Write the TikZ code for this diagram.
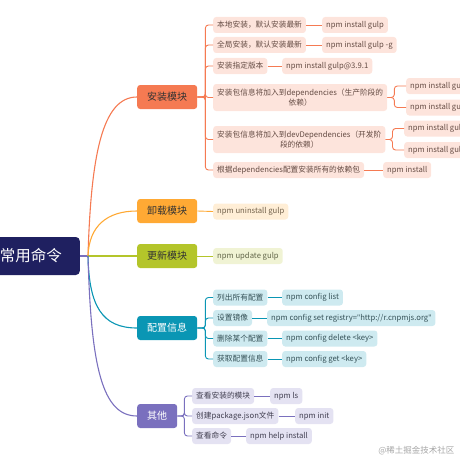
\documentclass[tikz,border=0pt]{standalone}
\usepackage{fontspec}
\setmainfont{Noto Sans CJK SC}
\newfontfamily\latinf{Noto Sans}
\usetikzlibrary{positioning,calc}

\definecolor{rootc}{HTML}{1F2060}
\definecolor{azc}{HTML}{F57A52}
\definecolor{xzc}{HTML}{FFA934}
\definecolor{gxc}{HTML}{B4C52A}
\definecolor{pzc}{HTML}{0A96B4}
\definecolor{qtc}{HTML}{7A70BE}

\newcommand{\dq}{{\latinf\char"22}}

\tikzset{
  topic/.style={rounded corners=3pt,minimum height=24pt,minimum width=60pt,
    font=\fontsize{10}{12}\selectfont,anchor=west,inner xsep=4pt},
  leaf/.style={rounded corners=3pt,minimum height=16pt,inner xsep=4pt,inner ysep=2pt,
    font=\fontsize{7.7}{9.6}\selectfont,anchor=west,align=center},
  main/.style={line width=1.1pt},
  sub/.style={line width=0.9pt,rounded corners=3pt},
}

\begin{document}
\begin{tikzpicture}[x=1pt,y=-1pt]
  \useasboundingbox (0,0) rectangle (460,460);

  % root and main branches
  \node[fill=rootc,text=white,rounded corners=4pt,minimum height=38pt,inner xsep=18pt,
        font=\fontsize{15.5}{18}\selectfont,anchor=east] (root) at (80,256) {常用命令};
  \coordinate (hub) at (88,256);

  \node[topic,fill=azc,text=black!80] (az) at (137,97) {安装模块};
  \node[topic,fill=xzc,text=black!80] (xz) at (137,211) {卸载模块};
  \node[topic,fill=gxc,text=black!80] (gx) at (137,256) {更新模块};
  \node[topic,fill=pzc,text=white] (pz) at (137,328) {配置信息};
  \node[topic,fill=qtc,text=white,minimum width=40pt] (qt) at (137,416) {其他};

  \draw[main,qtc] (root.east) -- (hub);
  \draw[main,azc] (hub) .. controls +(3,-100) and +(-35,0) .. (az.west);
  \draw[main,xzc] (hub) .. controls +(1,-30) and +(-30,0) .. (xz.west);
  \draw[main,gxc] (hub) -- (gx.west);
  \draw[main,pzc] (hub) .. controls +(1,50) and +(-35,0) .. (pz.west);
  \draw[main,qtc] (hub) .. controls +(3,110) and +(-35,0) .. (qt.west);

  % 安装模块
  \begin{scope}[every node/.append style={fill=azc!20,text=azc!25!black!80}]
    \node[leaf] (az1) at (213,25) {本地安装，默认安装最新};
    \node[leaf] (az2) at (213,45) {全局安装，默认安装最新};
    \node[leaf] (az3) at (213,66) {安装指定版本};
    \node[leaf,minimum height=27pt] (az4) at (213,97.5) {安装包信息将加入到dependencies（生产阶段的\\依赖）};
    \node[leaf,minimum height=27pt] (az5) at (213,139.5) {安装包信息将加入到devDependencies（开发阶\\段的依赖）};
    \node[leaf] (az6) at (213,170) {根据dependencies配置安装所有的依赖包};
    \node[leaf] (az1c) at (322,25) {npm install gulp};
    \node[leaf] (az2c) at (322,45) {npm install gulp -g};
    \node[leaf] (az3c) at (282,66) {npm install gulp@3.9.1};
    \node[leaf] (az4a) at (406,86) {npm install gulp --save};
    \node[leaf] (az4b) at (406,107.5) {npm install gulp -S};
    \node[leaf] (az5a) at (404,128.5) {npm install gulp --save-dev};
    \node[leaf] (az5b) at (404,150) {npm install gulp -D};
    \node[leaf] (az6c) at (383,170) {npm install};
  \end{scope}
  \begin{scope}[azc]
    \foreach \c in {az1,az2,az3,az4,az5,az6}
      \draw[sub] (az.east) -- ++(8,0) |- (\c.west);
    \foreach \c in {az1,az2,az3,az6}
      \draw[sub] (\c.east) -- (\c c.west);
    \foreach \c in {az4a,az4b} \draw[sub] (az4.east) -- ++(7,0) |- (\c.west);
    \foreach \c in {az5a,az5b} \draw[sub] (az5.east) -- ++(7,0) |- (\c.west);
  \end{scope}

  % 卸载 / 更新
  \node[leaf,fill=xzc!20,text=xzc!25!black!75] (xz1) at (213,211.5) {npm uninstall gulp};
  \node[leaf,fill=gxc!20,text=gxc!25!black!75] (gx1) at (213,256) {npm update gulp};
  \draw[sub,xzc] (xz.east) -- (xz1.west);
  \draw[sub,gxc] (gx.east) -- (gx1.west);

  % 配置信息
  \begin{scope}[every node/.append style={fill=pzc!20,text=pzc!25!black!80}]
    \node[leaf] (pz1) at (213,297.5) {列出所有配置};
    \node[leaf] (pz2) at (213,318) {设置镜像};
    \node[leaf] (pz3) at (213,338.5) {删除某个配置};
    \node[leaf] (pz4) at (213,359) {获取配置信息};
    \node[leaf] (pz1c) at (282,297.5) {npm config list};
    \node[leaf] (pz2c) at (267,318) {npm config set registry=\dq http://r.cnpmjs.org\dq};
    \node[leaf] (pz3c) at (282,338.5) {npm config delete <key>};
    \node[leaf] (pz4c) at (282,359) {npm config get <key>};
  \end{scope}
  \begin{scope}[pzc]
    \foreach \c in {pz1,pz2,pz3,pz4} {
      \draw[sub] (pz.east) -- ++(8,0) |- (\c.west);
      \draw[sub] (\c.east) -- (\c c.west);
    }
  \end{scope}

  % 其他
  \begin{scope}[every node/.append style={fill=qtc!20,text=qtc!25!black!85}]
    \node[leaf] (qt1) at (192,396) {查看安装的模块};
    \node[leaf] (qt2) at (192,416) {创建package.json文件};
    \node[leaf] (qt3) at (192,436) {查看命令};
    \node[leaf] (qt1c) at (270,396) {npm ls};
    \node[leaf] (qt2c) at (295,416) {npm init};
    \node[leaf] (qt3c) at (246,436) {npm help install};
  \end{scope}
  \begin{scope}[qtc]
    \foreach \c in {qt1,qt2,qt3} {
      \draw[sub] (qt.east) -- ++(7,0) |- (\c.west);
      \draw[sub] (\c.east) -- (\c c.west);
    }
  \end{scope}

  \node[text=black!35,font=\fontsize{8.5}{10}\selectfont,anchor=east] (wm) at (458,451) {@稀土掘金技术社区};
\end{tikzpicture}
\end{document}
